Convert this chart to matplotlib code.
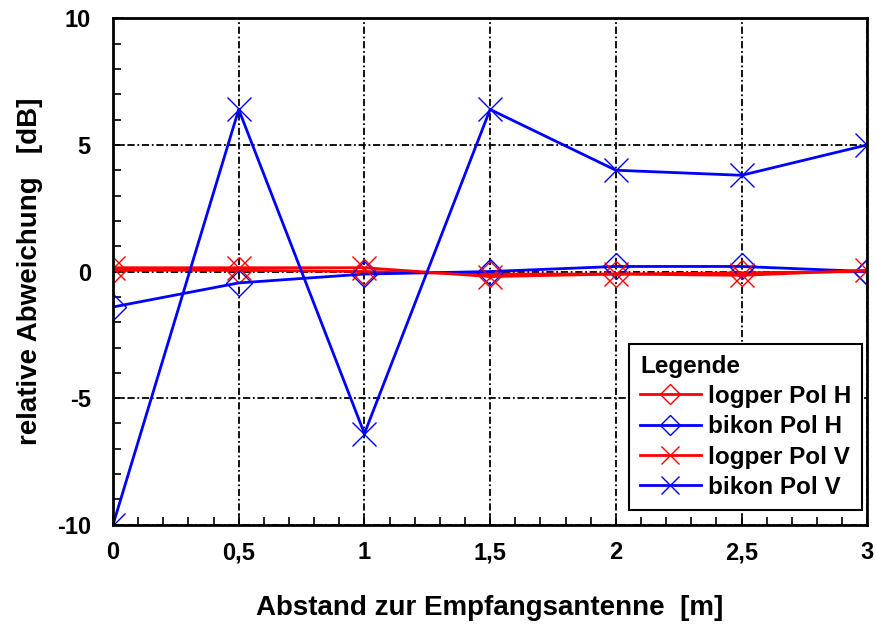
import matplotlib.pyplot as plt
import numpy as np
from matplotlib.ticker import MultipleLocator, FuncFormatter

plt.rcParams["font.family"] = ["Liberation Sans", "DejaVu Sans"]
plt.rcParams["font.weight"] = "bold"
plt.rcParams["axes.unicode_minus"] = False

abstand = [0, 0.5, 1, 1.5, 2, 2.5, 3]
logper_h = [0.05, 0.05, 0.0, -0.1, -0.1, -0.05, 0.0]
bikon_h = [-1.4, -0.45, -0.1, 0.0, 0.2, 0.2, 0.0]
logper_v = [0.15, 0.15, 0.15, -0.2, -0.1, -0.15, 0.05]
bikon_v = [-10.0, 6.4, -6.4, 6.4, 4.0, 3.8, 5.0]

fig = plt.figure(figsize=(8.76, 6.3), dpi=100)
ax = fig.add_axes([0.129, 0.167, 0.861, 0.804])

ax.plot(abstand, logper_h, color="red", lw=2, marker="D", ms=13, mfc="none", mew=1.0, label="logper Pol H")
ax.plot(abstand, bikon_h, color="blue", lw=2, marker="D", ms=13, mfc="none", mew=1.0, label="bikon Pol H")
ax.plot(abstand, logper_v, color="red", lw=2, marker="x", ms=17, mew=1.0, label="logper Pol V")
ax.plot(abstand, bikon_v, color="blue", lw=2, marker="x", ms=17, mew=1.0, label="bikon Pol V")

ax.set_xlim(0, 3)
ax.set_ylim(-10, 10)
ax.xaxis.set_major_locator(MultipleLocator(0.5))
ax.xaxis.set_minor_locator(MultipleLocator(0.1))
ax.yaxis.set_major_locator(MultipleLocator(5))
ax.yaxis.set_minor_locator(MultipleLocator(1))
ax.xaxis.set_major_formatter(FuncFormatter(lambda v, p: ("%g" % v).replace(".", ",")))
ax.yaxis.set_major_formatter(FuncFormatter(lambda v, p: "%g" % v))
ax.tick_params(which="both", direction="in", width=1.2)
ax.tick_params(which="major", length=8, labelsize=17)
ax.tick_params(axis="y", which="major", pad=16)
ax.tick_params(axis="x", which="major", pad=12)
ax.tick_params(which="minor", length=6)
ax.grid(True, which="major", color="black", ls=(0, (4, 1.5, 1, 1.5)), lw=1.3)
for s in ax.spines.values():
    s.set_linewidth(2)

ax.set_xlabel("Abstand zur Empfangsantenne  [m]", fontsize=20, fontweight="bold", va="center")
ax.set_ylabel("relative Abweichung   [dB]", fontsize=20, fontweight="bold", va="center")
ax.xaxis.set_label_coords(0.5, -0.164)
ax.yaxis.set_label_coords(-0.110, 0.5)

leg = ax.legend(title="Legende", loc="lower right", bbox_to_anchor=(0.9934, 0.0296),
                fontsize=17.5, title_fontsize=17.5, fancybox=False, edgecolor="black",
                framealpha=1, handlelength=2.5, handletextpad=0.3, borderaxespad=0,
                labelspacing=0.3, borderpad=0.45, markerscale=0.8)
leg._legend_box.align = "left"
leg.get_title().set_fontweight("bold")
leg.get_frame().set_linewidth(1.5)

plt.savefig("out.png", dpi=100)
